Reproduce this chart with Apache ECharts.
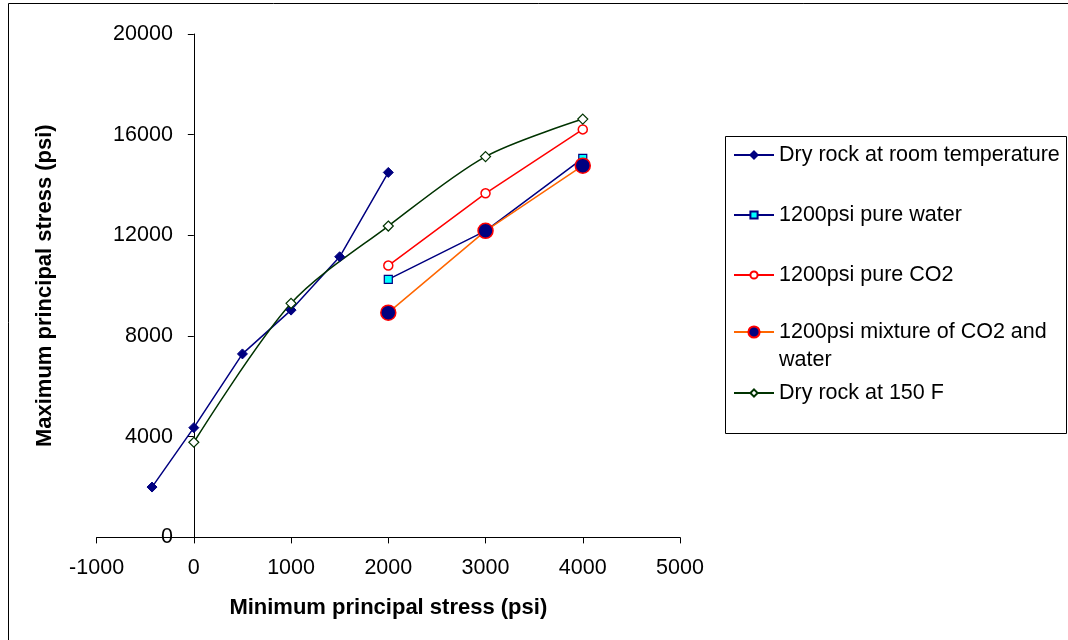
<!DOCTYPE html>
<html>
<head>
<meta charset="utf-8">
<script src="https://cdn.jsdelivr.net/npm/echarts@6/dist/echarts.min.js"></script>
<style>
html,body{margin:0;padding:0;background:#fff;}
#chart{width:1068px;height:640px;}
</style>
</head>
<body>
<div id="chart"></div>
<script>
// ---- data ----
const seriesNames = [
  'Dry rock at room temperature',
  '1200psi pure water',
  '1200psi pure CO2',
  '1200psi mixture of CO2 and water',
  'Dry rock at 150 F'
];
const dryRoomX = [-430, 0, 500, 1000, 1500, 2000];
const dryRoomY = [2000, 4360, 7290, 9030, 11150, 14500];
const waterX = [2000, 3000, 4000];
const waterY = [10250, 12180, 15060];
const co2X = [2000, 3000, 4000];
const co2Y = [10800, 13670, 16210];
const mixX = [2000, 3000, 4000];
const mixY = [8930, 12180, 14770];
const dry150X = [0, 1000, 2000, 3000, 4000];
const dry150Y = [3780, 9300, 12370, 15130, 16620];
const xTicks = {min: -1000, max: 5000, interval: 1000};
const yTicks = {min: 0, max: 20000, interval: 4000};

const zip = (xs, ys) => xs.map((x, i) => [x, ys[i]]);

const chart = echarts.init(document.getElementById('chart'));
const font = 'Liberation Sans, Arial, sans-serif';
const legendText = {fontFamily: font, fontSize: 21.5, color: '#000', lineHeight: 28};
const gridLeft = 96.6, gridRight = 388;
// the y axis crosses the x axis at x = 0: shift it by the pixel width of (0 - xmin)
const plotW = 1068 - gridLeft - gridRight;
const yAxisShift = plotW * (0 - xTicks.min) / (xTicks.max - xTicks.min);
chart.setOption({
  animation: false,
  backgroundColor: '#fff',
  grid: {left: gridLeft, right: gridRight, top: 34, bottom: 102.6, containLabel: false, outerBoundsMode: 'none'},
  xAxis: {
    type: 'value', min: xTicks.min, max: xTicks.max, interval: xTicks.interval,
    name: 'Minimum principal stress (psi)', nameLocation: 'middle', nameGap: 60,
    nameTextStyle: {fontFamily: font, fontSize: 22, fontWeight: 'bold', color: '#000'},
    axisLine: {onZero: true, lineStyle: {color: '#000', width: 1}},
    axisTick: {length: 6, lineStyle: {color: '#000'}},
    axisLabel: {fontFamily: font, fontSize: 21.5, color: '#000', margin: 20, formatter: v => String(v)},
    splitLine: {show: false}
  },
  yAxis: {
    type: 'value', min: yTicks.min, max: yTicks.max, interval: yTicks.interval,
    offset: -yAxisShift,
    name: 'Maximum principal stress (psi)', nameLocation: 'middle', nameGap: 138,
    nameTextStyle: {fontFamily: font, fontSize: 22, fontWeight: 'bold', color: '#000'},
    axisLine: {onZero: false, lineStyle: {color: '#000', width: 1}},
    axisTick: {length: 6, lineStyle: {color: '#000'}},
    axisLabel: {fontFamily: font, fontSize: 21.5, color: '#000', margin: 21, formatter: v => String(v)},
    splitLine: {show: false}
  },
  legend: [
    {
      orient: 'vertical', left: 733, top: 141, padding: 0,
      itemWidth: 40, itemHeight: 9, itemGap: 32,
      textStyle: legendText,
      data: [seriesNames[0], seriesNames[1], seriesNames[2]]
    },
    {
      orient: 'vertical', left: 733, top: 290, padding: 0,
      itemWidth: 40, itemHeight: 14, itemGap: 0,
      textStyle: legendText,
      data: [seriesNames[3]],
      formatter: () => '\n1200psi mixture of CO2 and\nwater'
    },
    {
      orient: 'vertical', left: 733, top: 379, padding: 0,
      itemWidth: 40, itemHeight: 9, itemGap: 0,
      textStyle: legendText,
      data: [seriesNames[4]]
    }
  ],
  graphic: [
    {type: 'rect', shape: {x: 725.5, y: 136.5, width: 341, height: 297}, style: {fill: 'none', stroke: '#000', lineWidth: 1}, z: -1},
    {type: 'polyline', shape: {points: [[8.5, 645], [8.5, 3.5], [1075, 3.5]]}, style: {fill: 'none', stroke: '#000', lineWidth: 1}}
  ],
  series: [
    {
      name: seriesNames[0], type: 'line', data: zip(dryRoomX, dryRoomY),
      symbol: 'diamond', symbolSize: 10,
      lineStyle: {color: '#000080', width: 1.5},
      itemStyle: {color: '#000080', borderColor: '#000080', borderWidth: 1}
    },
    {
      name: seriesNames[1], type: 'line', data: zip(waterX, waterY),
      symbol: 'rect', symbolSize: 8,
      lineStyle: {color: '#000080', width: 1.5},
      itemStyle: {color: '#00ffff', borderColor: '#000080', borderWidth: 1.2}
    },
    {
      name: seriesNames[2], type: 'line', data: zip(co2X, co2Y),
      symbol: 'circle', symbolSize: 9,
      lineStyle: {color: '#ff0000', width: 1.5},
      itemStyle: {color: '#ffffff', borderColor: '#ff0000', borderWidth: 1.5}
    },
    {
      name: seriesNames[3], type: 'line', data: zip(mixX, mixY),
      symbol: 'circle', symbolSize: 15,
      lineStyle: {color: '#ff6600', width: 1.5},
      itemStyle: {color: '#000080', borderColor: '#ff0000', borderWidth: 1.5}
    },
    {
      name: seriesNames[4], type: 'line', data: zip(dry150X, dry150Y), smooth: 0.3,
      symbol: 'diamond', symbolSize: 10,
      lineStyle: {color: '#003300', width: 1.5},
      itemStyle: {color: '#ffffff', borderColor: '#003300', borderWidth: 1.2}
    }
  ]
});
</script>
</body>
</html>
